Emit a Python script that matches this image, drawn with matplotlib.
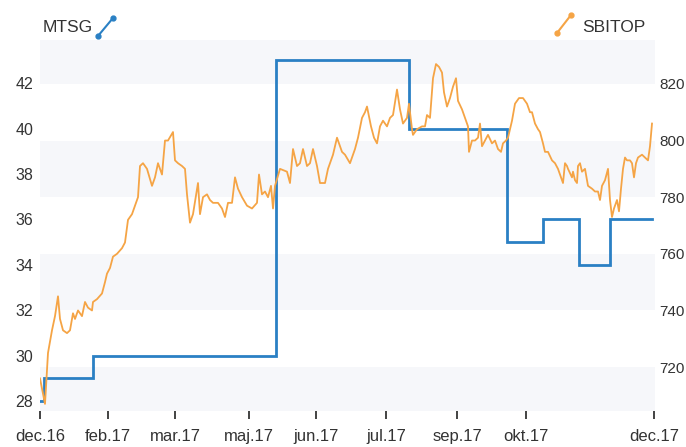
import matplotlib
matplotlib.use("Agg")
import matplotlib.pyplot as plt
from matplotlib.lines import Line2D
from matplotlib.patches import Rectangle
import matplotlib.transforms as mtransforms

plt.rcParams['font.family'] = ['Liberation Sans', 'DejaVu Sans']

# x positions are in chart "time units" (0 = dec.16 ... 614 = dec.17)
tick_pos = [0, 68, 135, 209, 276, 346, 417, 486, 614]
tick_labels = ["dec.16", "feb.17", "mar.17", "maj.17", "jun.17",
               "jul.17", "sep.17", "okt.17", "dec.17"]

# MTSG (left axis) step series: start position of each level
mtsg_x = [0, 4, 53, 236, 369, 467, 503, 539, 570, 612]
mtsg_y = [28, 29, 30, 43, 40, 35, 36, 34, 36, 36]

# SBITOP (right axis)
sbitop_x = [0, 5, 8, 12, 15, 18, 20, 23, 27, 30, 33, 35, 38, 42, 45, 48, 52, 53,
            57, 62, 65, 67, 70, 73, 77, 82, 85, 88, 92, 95, 98, 100, 103, 107,
            112, 115, 118, 122, 125, 128, 133, 135, 138, 142, 145, 147, 150, 153,
            158, 160, 163, 167, 170, 173, 178, 182, 185, 188, 192, 195, 198, 202,
            207, 212, 217, 219, 222, 225, 228, 231, 233, 235, 240, 247, 250, 253,
            257, 260, 263, 267, 270, 273, 277, 280, 285, 288, 293, 297, 302, 305,
            310, 315, 318, 322, 325, 327, 331, 334, 337, 340, 343, 347, 350, 353,
            357, 360, 363, 367, 369, 372, 373, 377, 382, 385, 387, 390, 393, 396,
            399, 402, 404, 407, 410, 413, 416, 418, 422, 425, 428, 429, 432, 435,
            438, 440, 442, 445, 448, 452, 455, 458, 461, 463, 466, 468, 472, 475,
            479, 483, 487, 490, 492, 495, 498, 500, 503, 505, 508, 512, 515, 518,
            521, 523, 525, 527, 528, 532, 533, 535, 537, 538, 540, 542, 545, 548,
            552, 555, 558, 560, 562, 565, 568, 570, 572, 574, 577, 579, 581, 583,
            585, 587, 590, 592, 594, 596, 598, 602, 605, 608, 610, 612]
sbitop_y = [716, 707, 725, 733, 738, 745, 737, 733, 732, 733, 739, 737, 740, 738,
            743, 741, 740, 743, 744, 746, 750, 753, 755, 759, 760, 762, 764, 772,
            774, 777, 780, 791, 792, 790, 784, 787, 792, 788, 800, 800, 803, 793,
            792, 791, 790, 781, 771, 774, 785, 774, 780, 781, 779, 778, 778, 776,
            773, 778, 778, 787, 783, 780, 777, 776, 778, 788, 781, 782, 780, 784,
            776, 784, 790, 789, 785, 797, 791, 792, 797, 791, 792, 797, 791, 785,
            785, 790, 795, 801, 796, 795, 792, 797, 801, 808, 810, 812, 805, 801,
            799, 805, 807, 805, 808, 809, 818, 811, 806, 808, 813, 804, 802, 804,
            805, 805, 809, 808, 822, 827, 826, 824, 817, 812, 815, 819, 822, 814,
            811, 808, 805, 796, 800, 800, 801, 806, 798, 800, 802, 799, 800, 797,
            796, 799, 800, 801, 807, 813, 815, 815, 813, 810, 810, 806, 804, 803,
            799, 796, 796, 793, 792, 790, 787, 785, 792, 791, 790, 787, 789, 786,
            785, 791, 792, 789, 790, 784, 783, 782, 782, 779, 784, 786, 790, 779,
            773, 776, 779, 775, 783, 790, 794, 793, 793, 792, 787, 792, 794, 795,
            794, 793, 798, 806]

left_ticks = [28, 30, 32, 34, 36, 38, 40, 42]
right_ticks = [720, 740, 760, 780, 800, 820]
bands = [(700, 720), (740, 760), (780, 800), (820, 840)]

blue = '#2a80c4'
orange = '#f5a445'
txt = '#333333'

W, H = 686, 447
fig = plt.figure(figsize=(W / 100, H / 100), dpi=100)
fig.patch.set_facecolor('white')
ax = fig.add_axes([40 / W, 1 - 411 / H, 615 / W, (411 - 40) / H])
ax2 = ax.twinx()

ax.set_xlim(0, 615)
ax.set_ylim(27.56, 43.9)
ax2.set_ylim(704.5, 835.5)

trans = mtransforms.blended_transform_factory(ax.transAxes, ax2.transData)
for lo, hi in bands:
    ax.add_patch(Rectangle((0, lo), 1, hi - lo, transform=trans,
                           facecolor='#f6f7fa', edgecolor='none', zorder=0))

ax.plot(mtsg_x, mtsg_y, drawstyle='steps-post', color=blue, lw=2.0, zorder=3,
        solid_joinstyle='miter')
ax2.plot(sbitop_x, sbitop_y, color=orange, lw=1.3, zorder=3)

for a in (ax, ax2):
    for s in a.spines.values():
        s.set_visible(False)

ax.set_xticks(tick_pos)
ax.set_xticklabels(tick_labels)
ax.tick_params(axis='x', length=6, width=1.2, color='#222222', pad=7,
               labelsize=12, labelcolor=txt)
ax.set_yticks(left_ticks)
ax.tick_params(axis='y', length=0, pad=5, labelsize=11.5, labelcolor=txt)
ax2.set_yticks(right_ticks)
ax2.tick_params(axis='y', length=0, pad=3, labelsize=11, labelcolor=txt)

# legends
fig.text(43 / W, 1 - 28 / H, "MTSG", fontsize=12.5, color=txt,
         ha='left', va='center')
fig.add_artist(Line2D([98 / W, 113 / W], [1 - 36 / H, 1 - 18 / H], color=blue,
                      lw=1.5, marker='o', markersize=3.5, transform=fig.transFigure))
fig.text(582 / W, 1 - 27 / H, "SBITOP", fontsize=12.5, color=txt,
         ha='left', va='center')
fig.add_artist(Line2D([557 / W, 571 / W], [1 - 33 / H, 1 - 15 / H], color=orange,
                      lw=1.5, marker='o', markersize=3.5, transform=fig.transFigure))

fig.savefig("out.png", dpi=100, facecolor='white')
